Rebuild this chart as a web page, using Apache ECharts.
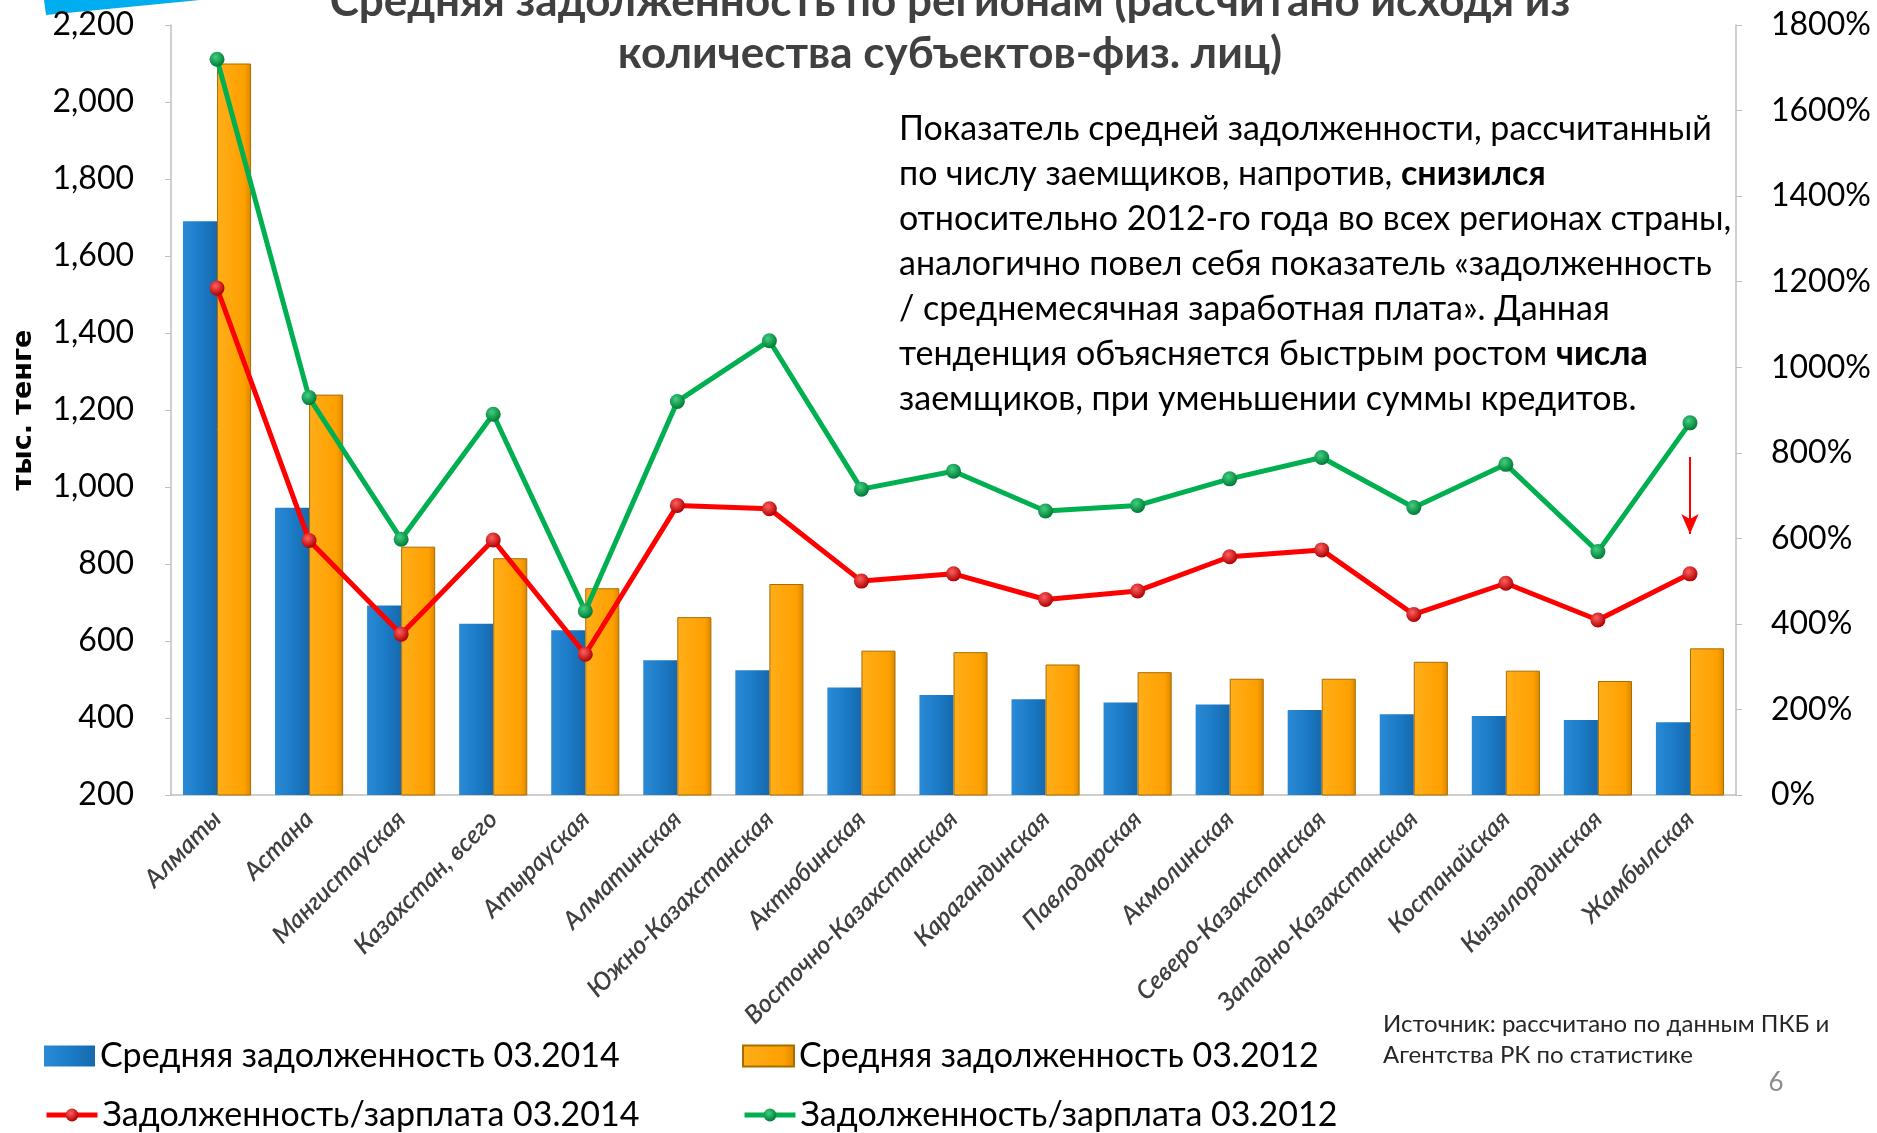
<!DOCTYPE html>
<html>
<head>
<meta charset="utf-8">
<title>Средняя задолженность по регионам</title>
<script src="https://cdn.jsdelivr.net/npm/echarts@6/dist/echarts.min.js"></script>
<style>
  html, body { margin: 0; padding: 0; background: #fff; }
  #main { width: 1877px; height: 1133px; }
</style>
</head>
<body>
<div id="main"></div>
<script>
// регионы (ось X)
var regions = ['Алматы', 'Астана', 'Мангистауская', 'Казахстан, всего', 'Атырауская',
  'Алматинская', 'Южно-Казахстанская', 'Актюбинская', 'Восточно-Казахстанская',
  'Карагандинская', 'Павлодарская', 'Акмолинская', 'Северо-Казахстанская',
  'Западно-Казахстанская', 'Костанайская', 'Кызылординская', 'Жамбылская'];

// средняя задолженность, тыс. тенге
var debt2014 = [1690, 946, 692, 645, 628, 550, 524, 479, 460, 449, 440, 435, 421, 410, 405, 395, 389];
var debt2012 = [2100, 1240, 845, 815, 737, 662, 748, 575, 571, 539, 519, 502, 502, 546, 523, 496, 581];

// задолженность / зарплата, %
var ratio2014 = [1185, 595, 376, 596, 329, 677, 669, 500, 517, 457, 477, 557, 573, 422, 495, 409, 517];
var ratio2012 = [1720, 929, 598, 890, 430, 920, 1062, 715, 757, 664, 677, 739, 789, 672, 773, 569, 870];

var leftTicks = { min: 200, max: 2200, step: 200 };
var rightTicks = { min: 0, max: 1800, step: 200 };

var names = ['Средняя задолженность 03.2014', 'Средняя задолженность 03.2012',
  'Задолженность/зарплата 03.2014', 'Задолженность/зарплата 03.2012'];

var FONT = 'Lato, "Open Sans", sans-serif';

var dom = document.getElementById('main');
var myChart = echarts.init(dom, null, { renderer: 'canvas' });

function sphere(light, dark) {
  return {
    type: 'radial', x: 0.4, y: 0.35, r: 0.65,
    colorStops: [{ offset: 0, color: light }, { offset: 1, color: dark }]
  };
}

function oneLegend(name, left, top, icon) {
  var l = {
    data: [name],
    left: left,
    top: top,
    itemWidth: 51,
    itemHeight: icon ? 21 : 16,
    itemGap: 0,
    padding: 0,
    textStyle: { fontFamily: FONT, fontSize: 34, color: '#000', padding: [0, 0, 0, 0] }
  };
  if (icon) l.icon = icon;
  else l.lineStyle = { width: 5 };
  return l;
}

var option = {
  animation: false,
  backgroundColor: '#fff',
  grid: { left: 171, right: 141, top: 25, bottom: 338, containLabel: false, outerBoundsMode: 'none' },
  legend: [
    oneLegend(names[0], 44, 1039, 'rect'),
    oneLegend(names[1], 742, 1039, 'rect'),
    oneLegend(names[2], 44, 1098),
    oneLegend(names[3], 742, 1098)
  ],
  xAxis: {
    type: 'category',
    data: regions,
    axisLine: { lineStyle: { color: '#bfbfbf', width: 1.5 } },
    axisTick: { show: false },
    axisLabel: {
      interval: 0, rotate: 45, margin: 20,
      fontFamily: FONT, fontStyle: 'italic', fontWeight: 600, fontSize: 25, color: '#404040'
    }
  },
  yAxis: [
    {
      type: 'value',
      min: leftTicks.min, max: leftTicks.max, interval: leftTicks.step,
      name: 'тыс. тенге',
      nameLocation: 'middle',
      nameGap: 134,
      nameRotate: 90,
      nameTextStyle: { fontFamily: '"DejaVu Sans", sans-serif', fontWeight: 'bold', fontSize: 27, color: '#000' },
      axisLine: { show: true, lineStyle: { color: '#bfbfbf', width: 1.5 } },
      axisTick: { show: true, length: 6, lineStyle: { color: '#bfbfbf' } },
      splitLine: { show: false },
      axisLabel: {
        margin: 37, fontFamily: FONT, fontSize: 32, color: '#000',
        formatter: function (v) { return v.toLocaleString('en-US'); }
      }
    },
    {
      type: 'value',
      min: rightTicks.min, max: rightTicks.max, interval: rightTicks.step,
      axisLine: { show: true, lineStyle: { color: '#bfbfbf', width: 1.5 } },
      axisTick: { show: true, length: 6, lineStyle: { color: '#bfbfbf' } },
      splitLine: { show: false },
      axisLabel: {
        margin: 35, fontFamily: FONT, fontSize: 32, color: '#000',
        formatter: function (v) { return v + '%'; }
      }
    }
  ],
  series: [
    {
      name: names[0],
      type: 'bar',
      data: debt2014,
      barGap: '0%',
      barCategoryGap: '26%',
      itemStyle: {
        color: {
          type: 'linear', x: 0, y: 0, x2: 1, y2: 0,
          colorStops: [{ offset: 0, color: '#2a8ad6' }, { offset: 0.5, color: '#1c7cc8' }, { offset: 1, color: '#1669ad' }]
        }
      }
    },
    {
      name: names[1],
      type: 'bar',
      data: debt2012,
      itemStyle: {
        color: {
          type: 'linear', x: 0, y: 0, x2: 1, y2: 0,
          colorStops: [{ offset: 0, color: '#ffae1a' }, { offset: 0.8, color: '#ffa000' }, { offset: 1, color: '#d98700' }]
        },
        borderColor: '#a86c00',
        borderWidth: 1
      }
    },
    {
      name: names[2],
      type: 'line',
      yAxisIndex: 1,
      data: ratio2014,
      symbol: 'circle',
      symbolSize: 15,
      lineStyle: { color: '#ff0000', width: 5 },
      itemStyle: { color: sphere('#ff6060', '#b00000') },
      z: 5,
      markLine: {
        silent: true,
        symbol: ['none', 'arrow'],
        symbolSize: [13, 20],
        label: { show: false },
        lineStyle: { color: '#ff0000', width: 2, type: 'solid' },
        data: [[{ coord: [16, 790] }, { coord: [16, 610] }]]
      }
    },
    {
      name: names[3],
      type: 'line',
      yAxisIndex: 1,
      data: ratio2012,
      symbol: 'circle',
      symbolSize: 15,
      lineStyle: { color: '#00b050', width: 5 },
      itemStyle: { color: sphere('#40d080', '#007a35') },
      z: 6
    }
  ],
  graphic: [
    { type: 'polygon', shape: { points: [[44, 0], [200, 0], [46, 15]] }, style: { fill: '#00aeef' } },
    {
      type: 'text', x: 950, y: 2,
      style: { text: 'Средняя задолженность по регионам (рассчитано исходя из', font: 'bold 44px ' + FONT, fill: '#404040', textAlign: 'center', textVerticalAlign: 'middle' }
    },
    {
      type: 'text', x: 950, y: 54,
      style: { text: 'количества субъектов-физ. лиц)', font: 'bold 44px ' + FONT, fill: '#404040', textAlign: 'center', textVerticalAlign: 'middle' }
    },
    {
      type: 'text', x: 899, y: 107,
      style: {
        text: 'Показатель средней задолженности, рассчитанный\n' +
          'по числу заемщиков, напротив, {b|снизился}\n' +
          'относительно 2012-го года во всех регионах страны,\n' +
          'аналогично повел себя показатель «задолженность\n' +
          '/ среднемесячная заработная плата». Данная\n' +
          'тенденция объясняется быстрым ростом {b|числа}\n' +
          'заемщиков, при уменьшении суммы кредитов.',
        fontFamily: FONT, fontSize: 34, lineHeight: 45, fill: '#000',
        rich: { b: { fontFamily: FONT, fontSize: 34, fontWeight: 'bold', lineHeight: 45 } }
      }
    },
    {
      type: 'text', x: 1383, y: 1009,
      style: {
        text: 'Источник: рассчитано по данным ПКБ и\nАгентства РК по статистике',
        fontFamily: FONT, fontSize: 24, lineHeight: 31, fill: '#262626'
      }
    },
    {
      type: 'text', x: 1776, y: 1083,
      style: { text: '6', fontFamily: FONT, fontSize: 26, fill: '#8c8c8c', textAlign: 'center', textVerticalAlign: 'middle' }
    }
  ]
};

myChart.setOption(option);
window.addEventListener('resize', myChart.resize);
</script>
</body>
</html>
